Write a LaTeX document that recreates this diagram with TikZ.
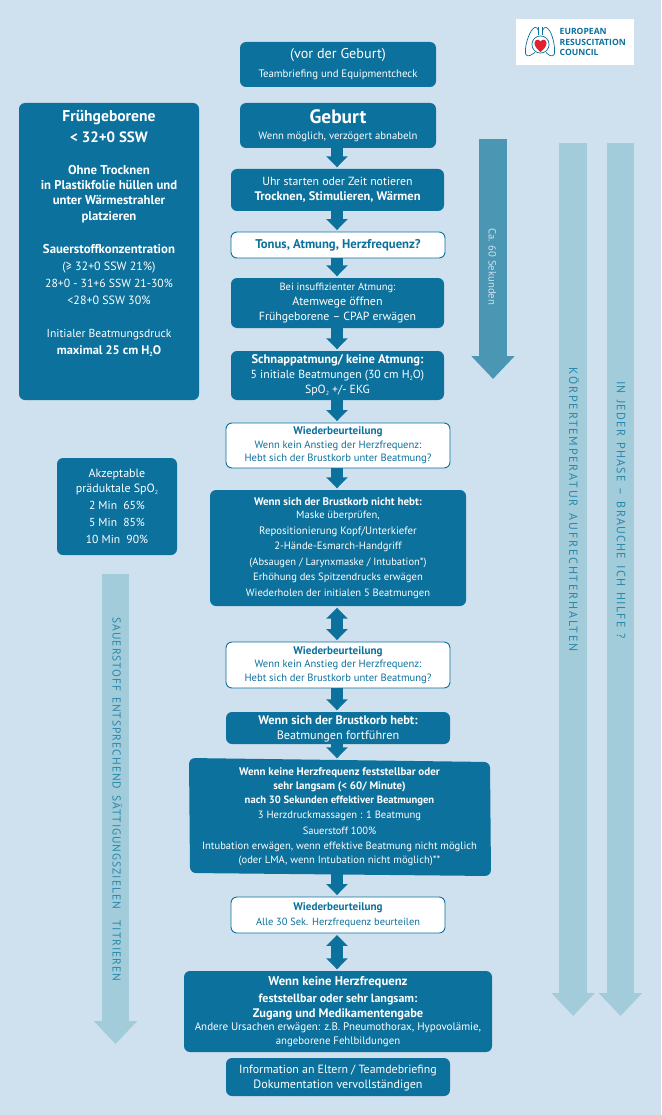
\documentclass[tikz,border=0pt]{standalone}
\usepackage{fontspec}
\setmainfont{PT Sans}
\newfontfamily\logofont{Open Sans}
\newfontfamily\capfont[WordSpace=1.4]{PT Sans}
\usetikzlibrary{arrows.meta}
\definecolor{bgc}{HTML}{CFE1EE}
\definecolor{ercblue}{HTML}{0C719C}
\definecolor{lightarrow}{HTML}{A3CCDA}
\definecolor{midarrow}{HTML}{4A96B3}
\definecolor{capblue}{HTML}{2A88AB}
\definecolor{heartred}{HTML}{E3202F}
\AtBeginDocument{\lineskiplimit=-100pt\relax}
\newcommand{\Rg}[1]{\normalfont\fontsize{#1}{12}\selectfont}
\newcommand{\Bd}[1]{\normalfont\bfseries\fontsize{#1}{12}\selectfont}
\newcommand{\Ln}[1]{\\[\dimexpr #1pt-12pt\relax]}
\newcommand{\sbs}[1]{\raisebox{-2pt}{\fontsize{6}{6}\selectfont #1}}
\newcommand{\Dp}[1]{\rule[-#1pt]{0pt}{0pt}}
\tikzset{
  x=1pt,y=-1pt,
  box/.style={rectangle,rounded corners=6pt,fill=ercblue,text=white,inner sep=0pt,align=center},
  wbox/.style={box,fill=white,draw=ercblue,line width=0.9pt,text=ercblue},
  conn/.style={draw=ercblue,line width=12pt,-{Triangle[length=11pt,width=21pt]},shorten >=1.5pt},
  dconn/.style={draw=ercblue,line width=12pt,{Triangle[length=11pt,width=21pt]}-{Triangle[length=11pt,width=21pt]},shorten >=1.5pt,shorten <=1.5pt},
  bigarrow/.style={line width=27.5pt,-{Triangle[length=23pt,width=42pt]}},
  sidetext/.style={rotate=-90,inner sep=0pt,text=capblue}
}
\begin{document}
\begin{tikzpicture}
\path[use as bounding box,fill=bgc] (0,0) rectangle (661,1115);
\coordinate (axis) at (337,0);
% logo
\node[fill=white,minimum width=117.5pt,minimum height=46.5pt,inner sep=0pt] (logo) at (575.2,41.9) {};
\node[anchor=west,inner sep=0pt,align=left,text=ercblue,font=\logofont\bfseries\fontsize{8.6}{10.3}\selectfont] (logotext) at (559.5,42) {EUROPEAN\\RESUSCITATION\\COUNCIL};
\draw[ercblue,line width=0.7pt,rounded corners=1pt] (538.5,32) .. controls (538.5,27.5) and (535,26.5) .. (533,29) .. controls (529,33) and (525,45) .. (525.5,53) .. controls (526,56.5) and (529,56) .. (531,55) -- (535,52.5);
\draw[ercblue,line width=0.7pt,rounded corners=1pt] (542.5,32) .. controls (542.5,27.5) and (546,26.5) .. (548,29) .. controls (552,33) and (555,45) .. (554.5,53) .. controls (554,56.5) and (551,56) .. (549,55) -- (546,52.5);
\draw[ercblue,line width=0.7pt] (538.5,27) -- (538.5,35) (542.5,27) -- (542.5,35);
\draw[ercblue,line width=0.7pt] (540.5,44.5) circle[radius=8.6];
\fill[heartred] (540.5,52) .. controls (537,49) and (534.5,46.5) .. (534.5,43) .. controls (534.5,39.5) and (539,38.5) .. (540.5,41.5) .. controls (542,38.5) and (546.5,39.5) .. (546.5,43) .. controls (546.5,46.5) and (544,49) .. (540.5,52) -- cycle;
% big arrows
\draw[bigarrow,midarrow] (493,139.5) -- (493,379);
\draw[bigarrow,lightarrow] (573.2,142.7) -- (573.2,1016);
\draw[bigarrow,lightarrow] (620.5,142.7) -- (620.5,1016);
\draw[bigarrow,lightarrow] (115.5,574) -- (115.5,1044);
\node[rotate=-90,inner sep=0pt,text=bgc] (ca) at (492.4,266.7) {\Rg{10.7}Ca. 60 Sekunden};
\node[sidetext] (koerper) at (574,509.7) {\Rg{12}\capfont\addfontfeature{LetterSpace=15}KÖRPERTEMPERATUR AUFRECHTERHALTEN};
\node[sidetext] (phase) at (621,510) {\Rg{12}\capfont\addfontfeature{LetterSpace=10}IN JEDER PHASE – BRAUCHE ICH HILFE ?};
\node[sidetext] (sauer) at (117.5,799.6) {\Rg{11.5}\capfont\addfontfeature{LetterSpace=8.5}SAUERSTOFF ENTSPRECHEND SÄTTIGUNGSZIELEN\ \ TITRIEREN};
% left boxes
\node[box,minimum width=180pt,minimum height=297pt] (frueh) at (109,251.5) {\Bd{15.6}Frühgeborene\Ln{20.6}\Bd{15}< 32+0 SSW\Ln{32.7}\Bd{12.8}Ohne Trocknen\Ln{15}\Bd{12.7}in Plastikfolie hüllen und\Ln{15}\Bd{12.7}unter Wärmestrahler\Ln{15.3}\Bd{12.7}platzieren\Ln{33.4}\Bd{12.8}Sauerstoffkonzentration\Ln{17}\Rg{12}(≥ 32+0 SSW 21\%)\Ln{17.3}\Rg{11.7}28+0 - 31+6 SSW 21-30\%\Ln{16.7}\Rg{12}<28+0 SSW 30\%\Ln{33.3}\Rg{11.6}Initialer Beatmungsdruck\Ln{17}\Bd{12.4}maximal 25 cm H\sbs{2}O\Dp{38}};
\node[box,minimum width=120pt,minimum height=97pt] (akz) at (117,506.5) {\Rg{12}Akzeptable\Ln{15}\Rg{12}präduktale SpO\sbs{2}\Ln{16.7}\Rg{11.6}2 Min\ \ 65\%\Ln{16.6}\Rg{11.6}5 Min\ \ 85\%\Ln{17.4}\Rg{11.6}10 Min\ \ 90\%};
% centre column
\node[box,minimum width=196pt,minimum height=45pt] (vor) at (338,64.5) {\Rg{14.2}(vor der Geburt)\Ln{19}\Rg{10.8}Teambriefing und Equipmentcheck\Dp{2}};
\node[box,minimum width=196pt,minimum height=45pt] (geburt) at (338,125.5) {\Bd{19.4}Geburt\Ln{16}\Rg{10.7}Wenn möglich, verzögert abnabeln\Dp{2}};
\node[box,minimum width=213pt,minimum height=42pt] (uhr) at (337.5,190) {\Rg{11.8}Uhr starten oder Zeit notieren\Ln{14.7}\Bd{12.4}Trocknen, Stimulieren, Wärmen};
\node[wbox,minimum width=214pt,minimum height=26pt] (tonus) at (338,245) {\Bd{12.7}Tonus, Atmung, Herzfrequenz?};
\node[box,minimum width=213pt,minimum height=50pt] (bei) at (337.5,303) {\Rg{10.5}Bei insuffizienter Atmung:\Ln{14.7}\Rg{12}Atemwege öffnen\Ln{15}\Rg{11.8}Frühgeborene – CPAP erwägen};
\node[box,minimum width=213pt,minimum height=49pt] (schnapp) at (337.5,375.5) {\Bd{12.5}Schnappatmung/ keine Atmung:\Ln{15}\Rg{11.7}5 initiale Beatmungen (30 cm H\sbs{2}O)\Ln{15}\Rg{11.8}SpO\sbs{2} +/- EKG};
\node[wbox,minimum width=224pt,minimum height=45pt] (w1) at (338,445.5) {\Bd{11.1}Wiederbeurteilung\Ln{13.7}\Rg{10.6}Wenn kein Anstieg der Herzfrequenz:\Ln{13.3}\Rg{10.6}Hebt sich der Brustkorb unter Beatmung?};
\node[box,minimum width=256pt,minimum height=116pt] (nicht) at (338,548) {\Bd{11}Wenn sich der Brustkorb nicht hebt:\Ln{13.7}\Rg{10.6}Maske überprüfen,\Ln{15.3}\Rg{10.8}Repositionierung Kopf/Unterkiefer\Ln{15.7}\Rg{10.6}2-Hände-Esmarch-Handgriff\Ln{15.3}\Rg{10.5}(Absaugen / Larynxmaske / Intubation*)\Ln{15.7}\Rg{10.6}Erhöhung des Spitzendrucks erwägen\Ln{15.6}\Rg{10.6}Wiederholen der initialen 5 Beatmungen};
\node[wbox,minimum width=224pt,minimum height=46pt] (w2) at (338,665) {\Bd{11.1}Wiederbeurteilung\Ln{13.7}\Rg{10.6}Wenn kein Anstieg der Herzfrequenz:\Ln{13.6}\Rg{10.6}Hebt sich der Brustkorb unter Beatmung?};
\node[box,minimum width=224pt,minimum height=32pt] (hebt) at (338,728) {\Bd{12.4}\rule{0pt}{11pt}Wenn sich der Brustkorb hebt:\Ln{15.4}\Rg{12.2}Beatmungen fortführen};
\fill[ercblue,rounded corners=6pt] (189,758) -- (490,762) -- (491,876) -- (190,873) -- cycle;
\node[rectangle,inner sep=0pt,align=center,text=white,minimum width=301pt,minimum height=113pt] (hf) at (339.5,816.5) {\Bd{11}Wenn keine Herzfrequenz feststellbar oder\Ln{13.7}\Bd{10.9}sehr langsam (< 60/ Minute)\Ln{14}\Bd{10.6}nach 30 Sekunden effektiver Beatmungen\Ln{15.3}\Rg{10.6}3 Herzdruckmassagen : 1 Beatmung\Ln{15.7}\Rg{10.5}Sauerstoff 100\%\Ln{15.3}\Rg{10.6}Intubation erwägen, wenn effektive Beatmung nicht möglich\Ln{13.7}\Rg{10.6}(oder LMA, wenn Intubation nicht möglich)**};
\node[wbox,minimum width=214pt,minimum height=36pt] (w3) at (338,915) {\Bd{11.1}Wiederbeurteilung\Ln{15}\Rg{10.4}Alle 30 Sek. Herzfrequenz beurteilen};
\node[box,minimum width=308pt,minimum height=81pt] (zugang) at (338,1011.5) {\Bd{12.7}Wenn keine Herzfrequenz\Ln{17.3}\Bd{12}feststellbar oder sehr langsam:\Ln{14.7}\Bd{12.4}Zugang und Medikamentengabe\Ln{13.7}\Rg{11}Andere Ursachen erwägen: z.B. Pneumothorax, Hypovolämie,\Ln{13.3}\Rg{10.8}angeborene Fehlbildungen\Dp{3}};
\node[box,minimum width=224pt,minimum height=38pt] (info) at (338,1077) {\Rg{11.9}\rule{0pt}{11pt}Information an Eltern / Teamdebriefing\Ln{15.3}\Rg{12.1}Dokumentation vervollständigen};
% connectors
\draw[conn] (geburt.south -| axis) -- (uhr.north -| axis);
\draw[conn] (uhr.south -| axis) -- (tonus.north -| axis);
\draw[conn] (tonus.south -| axis) -- (bei.north -| axis);
\draw[conn] (bei.south -| axis) -- (schnapp.north -| axis);
\draw[conn] (schnapp.south -| axis) -- (w1.north -| axis);
\draw[conn] (w1.south -| axis) -- (nicht.north -| axis);
\draw[dconn] (nicht.south -| axis) -- (w2.north -| axis);
\draw[conn] (w2.south -| axis) -- (hebt.north -| axis);
\draw[conn] (hebt.south -| axis) -- (hf.north -| axis);
\draw[conn] (hf.south -| axis) -- (w3.north -| axis);
\draw[dconn] (w3.south -| axis) -- (zugang.north -| axis);
\end{tikzpicture}
\end{document}
